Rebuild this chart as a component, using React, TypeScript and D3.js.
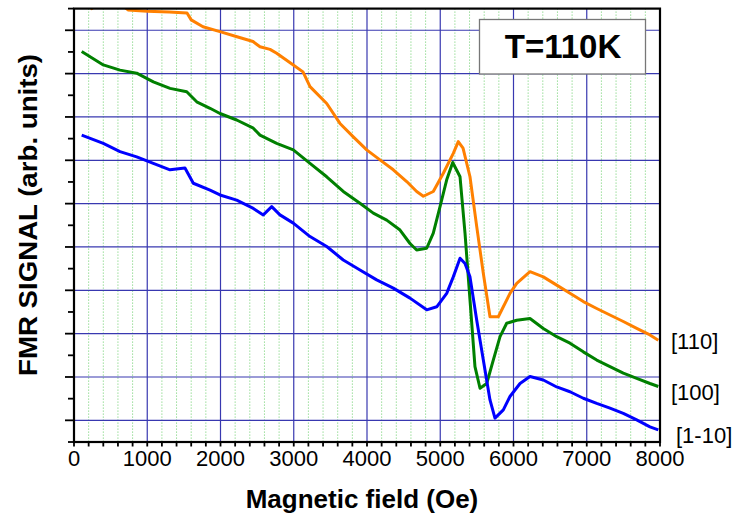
import React from "react";
import * as d3 from "d3";

const field110 = [100, 242, 400, 600, 737, 1000, 1300, 1543, 1600, 1761, 1993, 2225, 2444, 2539, 2676, 2767, 2994, 3126, 3222, 3450, 3631, 3813, 3996, 4177, 4359, 4542, 4678, 4769, 4905, 5042, 5178, 5246, 5311, 5406, 5498, 5588, 5679, 5793, 5952, 6044, 6225, 6407, 6590, 6771, 6953, 7136, 7317, 7499, 7682, 7863, 7977];
const signal110 = [10.3, 10.0, 10.2, 10.15, 9.97, 9.94, 9.92, 9.9, 9.74, 9.58, 9.47, 9.35, 9.24, 9.12, 9.06, 8.97, 8.7, 8.54, 8.2, 7.81, 7.35, 7.04, 6.74, 6.51, 6.28, 6.01, 5.78, 5.67, 5.78, 6.2, 6.66, 6.93, 6.78, 6.12, 4.97, 3.89, 2.89, 2.89, 3.43, 3.66, 3.93, 3.81, 3.62, 3.43, 3.24, 3.08, 2.93, 2.78, 2.62, 2.47, 2.35];

const field100 = [105, 400, 628, 856, 1083, 1311, 1539, 1675, 1857, 1993, 2221, 2448, 2539, 2767, 2994, 3222, 3450, 3676, 3904, 4086, 4269, 4451, 4587, 4678, 4815, 4905, 4997, 5088, 5170, 5246, 5270, 5338, 5406, 5474, 5543, 5634, 5724, 5816, 5907, 6044, 6225, 6407, 6590, 6771, 6953, 7136, 7317, 7499, 7682, 7863, 7977];
const signal100 = [9.01, 8.7, 8.58, 8.51, 8.31, 8.16, 8.08, 7.85, 7.7, 7.58, 7.43, 7.24, 7.08, 6.89, 6.74, 6.43, 6.12, 5.78, 5.51, 5.28, 5.12, 4.89, 4.58, 4.43, 4.47, 4.82, 5.43, 6.05, 6.45, 6.2, 6.12, 4.82, 3.28, 1.74, 1.24, 1.35, 1.89, 2.43, 2.74, 2.81, 2.85, 2.62, 2.43, 2.28, 2.08, 1.89, 1.74, 1.59, 1.47, 1.35, 1.28];

const field1m10 = [105, 400, 628, 856, 1083, 1311, 1515, 1629, 1857, 1993, 2221, 2448, 2584, 2699, 2812, 2994, 3222, 3450, 3676, 3904, 4132, 4359, 4587, 4815, 4952, 5088, 5178, 5270, 5338, 5406, 5498, 5588, 5679, 5747, 5861, 5952, 6089, 6225, 6407, 6590, 6771, 6953, 7136, 7317, 7499, 7682, 7863, 7977];
const signal1m10 = [7.08, 6.89, 6.7, 6.58, 6.43, 6.28, 6.32, 5.97, 5.81, 5.7, 5.58, 5.39, 5.24, 5.43, 5.24, 5.05, 4.74, 4.51, 4.2, 3.97, 3.74, 3.55, 3.32, 3.05, 3.12, 3.43, 3.81, 4.24, 4.12, 3.81, 2.81, 1.89, 0.97, 0.55, 0.74, 1.05, 1.35, 1.51, 1.43, 1.27, 1.16, 1.01, 0.89, 0.78, 0.66, 0.51, 0.35, 0.28];

const seriesNames = ["[110]", "[100]", "[1-10]"];
const seriesColors = ["#ff8000", "#008000", "#0000ff"];
const xTickLabels = ["0", "1000", "2000", "3000", "4000", "5000", "6000", "7000", "8000"];
const title = "T=110K";
const xTitle = "Magnetic field (Oe)";
const yTitle = "FMR SIGNAL (arb. units)";

const W = 736, H = 518;
const L = 74, R = 660, T = 8.6, B = 442;
const FONT = "'Liberation Sans', Arial, Helvetica, sans-serif";

export default function App() {
  const x = d3.scaleLinear().domain([0, 8000]).range([L, R]);
  const y = d3.scaleLinear().domain([0, 10]).range([B, T]);
  const series = [
    { f: field110, s: signal110 },
    { f: field100, s: signal100 },
    { f: field1m10, s: signal1m10 },
  ];
  const line = d3.line<[number, number]>().x((d) => x(d[0])).y((d) => y(d[1]));
  const majorX = d3.range(1000, 8000, 1000);
  const minorX = d3.range(200, 8000, 200).filter((v) => v % 1000 !== 0);
  const xTicks = d3.range(0, 8001, 200);
  const majorY = d3.range(0.5, 10, 1);
  const minorY = d3.range(0, 10.01, 1);
  const labelY = [349, 400, 443];
  const labelX = [671, 671, 676];

  return (
    <svg width={W} height={H} style={{ position: "absolute", left: 0, top: 0, background: "#fff" }} fontFamily={FONT}>
      <defs>
        <clipPath id="plotclip">
          <rect x={L} y={T} width={R - L} height={B - T} />
        </clipPath>
      </defs>
      {minorX.map((v) => (
        <line key={"mx" + v} x1={x(v)} x2={x(v)} y1={T} y2={B} stroke="#66cc66" strokeWidth={1} strokeDasharray="1,2" />
      ))}
      {majorX.map((v) => (
        <line key={"Mx" + v} x1={x(v)} x2={x(v)} y1={T} y2={B} stroke="#3838b0" strokeWidth={1.2} />
      ))}
      {majorY.map((v) => (
        <line key={"My" + v} x1={L} x2={R} y1={y(v)} y2={y(v)} stroke="#3838b0" strokeWidth={1.2} />
      ))}
      <g clipPath="url(#plotclip)">
        {series.map((sr, i) => (
          <path
            key={i}
            d={line(sr.f.map((f, j) => [f, sr.s[j]] as [number, number])) || ""}
            fill="none"
            stroke={seriesColors[i]}
            strokeWidth={3}
            strokeLinejoin="round"
          />
        ))}
      </g>
      <rect x={L} y={T} width={R - L} height={B - T} fill="none" stroke="#000" strokeWidth={2.2} />
      {xTicks.map((v) => (
        <line key={"xt" + v} x1={x(v)} x2={x(v)} y1={B} y2={B + 4.5} stroke="#000" strokeWidth={1.8} />
      ))}
      {majorY.map((v) => (
        <line key={"yt" + v} x1={L - 9} x2={L} y1={y(v)} y2={y(v)} stroke="#000" strokeWidth={1.8} />
      ))}
      {minorY.map((v) => (
        <line key={"ym" + v} x1={L - 6} x2={L} y1={y(v)} y2={y(v)} stroke="#000" strokeWidth={1.8} />
      ))}
      {xTickLabels.map((t, i) => (
        <text key={"xl" + t} x={x(i * 1000)} y={466} fontSize={22} textAnchor="middle" fill="#000">
          {t}
        </text>
      ))}
      <text x={362} y={508} fontSize={26} fontWeight="bold" textAnchor="middle" fill="#000">
        {xTitle}
      </text>
      <text
        transform="translate(37,215) rotate(-90)"
        fontSize={26}
        fontWeight="bold"
        textAnchor="middle"
        textLength={322}
        lengthAdjust="spacingAndGlyphs"
        fill="#000"
      >
        {yTitle}
      </text>
      <rect x={479.5} y={19.5} width={166} height={54.5} fill="#fff" stroke="#777" strokeWidth={1.3} />
      <text x={563} y={58} fontSize={33} fontWeight="bold" textAnchor="middle" fill="#000">
        {title}
      </text>
      {seriesNames.map((n, i) => (
        <text key={n} x={labelX[i]} y={labelY[i]} fontSize={22} fill="#000">
          {n}
        </text>
      ))}
    </svg>
  );
}
